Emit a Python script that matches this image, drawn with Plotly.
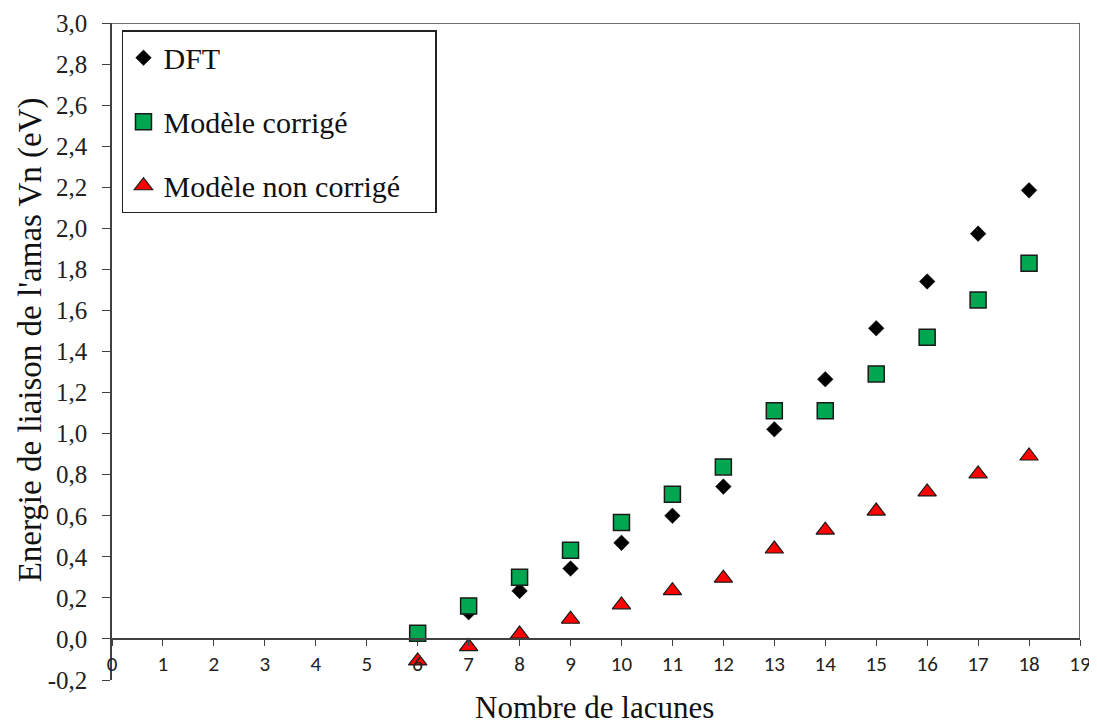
import plotly.graph_objects as go

lacunes = [6, 7, 8, 9, 10, 11, 12, 13, 14, 15, 16, 17, 18]
dft = [0.02, 0.13, 0.234, 0.343, 0.468, 0.60, 0.742, 1.021, 1.265, 1.513, 1.741, 1.974, 2.185]
corrige = [0.028, 0.161, 0.30, 0.432, 0.567, 0.705, 0.838, 1.111, 1.112, 1.291, 1.470, 1.651, 1.830]
non_corrige = [-0.107, -0.037, 0.024, 0.096, 0.166, 0.235, 0.296, 0.438, 0.530, 0.623, 0.716, 0.804, 0.891]

x_ticks = list(range(0, 20))
y_ticks = [round(-0.2 + 0.2 * i, 1) for i in range(17)]
y_labels = [f"{v:.1f}".replace(".", ",") for v in y_ticks]

serif = "Liberation Serif, Times New Roman, serif"
sans = "Carlito, Lato, Liberation Sans, sans-serif"

fig = go.Figure()
fig.add_trace(go.Scatter(
    x=lacunes, y=dft, mode="markers", name="DFT", legendgroup="a",
    marker=dict(symbol="diamond", size=12, color="black", line=dict(color="black", width=0.5)),
))
fig.add_trace(go.Scatter(
    x=lacunes, y=corrige, mode="markers", name="Modèle corrigé", legendgroup="b",
    marker=dict(symbol="square", size=16, color="#00A650", line=dict(color="#1a1a1a", width=1.5)),
))
fig.add_trace(go.Scatter(
    x=lacunes, y=non_corrige, mode="markers", name="Modèle non corrigé\u00a0\u00a0\u00a0\u00a0", legendgroup="c",
    marker=dict(symbol="triangle-up", size=16, color="#FF0000", line=dict(color="#1a1a1a", width=1.2)),
))

axis_color = "#404040"
# the page body adds an 8px offset, margins compensate for it
fig.update_layout(
    width=1097, height=722,
    margin=dict(l=104, r=25, t=15, b=50, autoexpand=False),
    paper_bgcolor="white", plot_bgcolor="white",
    font=dict(family=serif, size=25, color="#222"),
    separators=", ",
    showlegend=True,
    legend=dict(
        x=0.0103, y=0.989, xanchor="left", yanchor="top",
        bordercolor="#222", borderwidth=1.5, bgcolor="white",
        font=dict(family=serif, size=30, color="#111"),
        traceorder="grouped", tracegroupgap=22,
        itemwidth=30,
    ),
    xaxis=dict(
        range=[0, 19], tickmode="array", tickvals=x_ticks,
        ticktext=[str(v) for v in x_ticks],
        showgrid=False, zeroline=False, automargin=False,
        showline=True, linecolor=axis_color, linewidth=1.5,
        ticks="outside", ticklen=6, tickcolor=axis_color, tickwidth=1.2,
        tickfont=dict(family=sans, size=21, color="#222"),
        anchor="free", position=0.2 / 3.2,
    ),
    yaxis=dict(
        range=[-0.2, 3.0], tickmode="array", tickvals=y_ticks, ticktext=y_labels,
        showgrid=False, zeroline=False, automargin=False,
        showline=True, linecolor=axis_color, linewidth=1.5,
        ticks="outside", ticklen=8, tickcolor=axis_color, tickwidth=1.2,
        ticklabelstandoff=10,
        tickfont=dict(family=serif, size=25, color="#222"),
    ),
    annotations=[
        dict(
            text="Nombre de lacunes", xref="paper", yref="paper",
            x=0.498, y=-0.042, xanchor="center", yanchor="middle", showarrow=False,
            font=dict(family=serif, size=31, color="#111"),
        ),
        dict(
            text="Energie de liaison de l'amas Vn (eV)", xref="paper", yref="paper",
            x=-0.0847, y=0.517, xanchor="center", yanchor="middle", showarrow=False,
            textangle=-90,
            font=dict(family=serif, size=33, color="#111"),
        ),
    ],
    shapes=[
        dict(type="line", xref="x", yref="y", x0=0, x1=19, y0=3.0, y1=3.0,
             line=dict(color=axis_color, width=1.5)),
        dict(type="line", xref="x", yref="y", x0=19, x1=19, y0=0, y1=3.0,
             line=dict(color=axis_color, width=1.5)),
    ],
)

fig.write_html("out.html")
